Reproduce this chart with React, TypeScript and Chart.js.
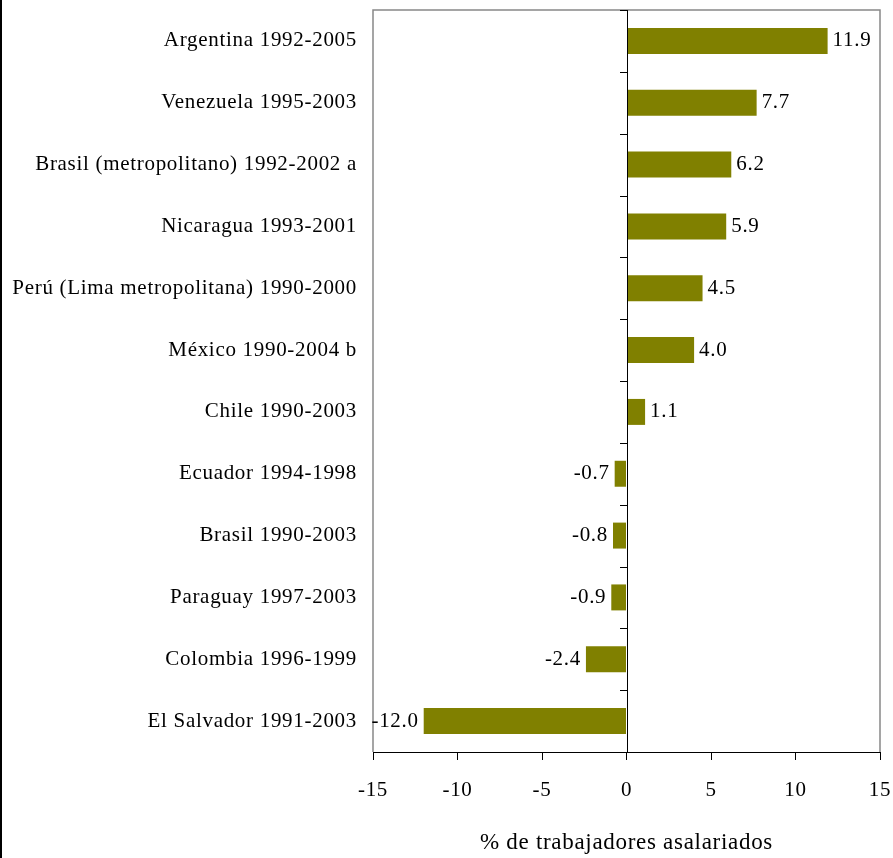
import React, { useEffect, useRef } from "react";
import { Chart, registerables } from "chart.js";

Chart.register(...registerables);

const categories = [
  "Argentina 1992-2005",
  "Venezuela 1995-2003",
  "Brasil (metropolitano) 1992-2002 a",
  "Nicaragua 1993-2001",
  "Perú (Lima metropolitana) 1990-2000",
  "México 1990-2004 b",
  "Chile 1990-2003",
  "Ecuador 1994-1998",
  "Brasil 1990-2003",
  "Paraguay 1997-2003",
  "Colombia 1996-1999",
  "El Salvador 1991-2003",
];
const values = [11.9, 7.7, 6.2, 5.9, 4.5, 4.0, 1.1, -0.7, -0.8, -0.9, -2.4, -12.0];
const xMin = -15;
const xMax = 15;
const xStep = 5;
const axisTitle = "% de trabajadores asalariados";

const FONT = "'Liberation Serif', 'Times New Roman', serif";
const BAR_COLOR = "#808000";

const spacingPlugin = {
  id: "spacing",
  beforeDraw(chart: any) {
    const ctx = chart.ctx;
    (ctx as any).letterSpacing = "0.7px";
    ctx.save();
    ctx.fillStyle = "#ffffff";
    ctx.fillRect(0, 0, chart.width, chart.height);
    ctx.fillStyle = "#000000";
    ctx.fillRect(0, 0, 2, chart.height);
    ctx.restore();
  },
};

const framePlugin = {
  id: "frame",
  beforeDatasetsDraw(chart: any) {
    const { ctx, chartArea } = chart;
    ctx.save();
    ctx.strokeStyle = "#888888";
    ctx.lineWidth = 1.5;
    ctx.beginPath();
    ctx.moveTo(chartArea.left, chartArea.bottom);
    ctx.lineTo(chartArea.left, chartArea.top);
    ctx.lineTo(chartArea.right, chartArea.top);
    ctx.lineTo(chartArea.right, chartArea.bottom);
    ctx.stroke();
    ctx.restore();
  },
  afterDatasetsDraw(chart: any) {
    const { ctx, chartArea } = chart;
    const x0 = chart.scales.x.getPixelForValue(0);
    ctx.save();
    ctx.strokeStyle = "#000000";
    ctx.lineWidth = 1;
    ctx.beginPath();
    ctx.moveTo(Math.round(x0) + 0.5, chartArea.top);
    ctx.lineTo(Math.round(x0) + 0.5, chartArea.bottom);
    const n = categories.length;
    const h = (chartArea.bottom - chartArea.top) / n;
    for (let i = 0; i <= n; i++) {
      const y = Math.round(chartArea.top + i * h) + 0.5;
      ctx.moveTo(Math.round(x0) - 7, y);
      ctx.lineTo(Math.round(x0) + 0.5, y);
    }
    ctx.stroke();

    // data labels
    ctx.fillStyle = "#000000";
    ctx.font = `21px ${FONT}`;
    ctx.textBaseline = "middle";
    const meta = chart.getDatasetMeta(0);
    meta.data.forEach((el: any, i: number) => {
      const v = values[i];
      const txt = v.toFixed(1);
      if (v >= 0) {
        ctx.textAlign = "left";
        ctx.fillText(txt, el.x + 5, el.y);
      } else {
        ctx.textAlign = "right";
        ctx.fillText(txt, el.x - 5, el.y);
      }
    });
    ctx.restore();
  },
};

function zeroPad(scale: any) {
  scale.paddingTop = 0;
  scale.paddingBottom = 0;
  scale.paddingLeft = 0;
  scale.paddingRight = 0;
}

export default function App() {
  const ref = useRef<HTMLCanvasElement>(null);
  useEffect(() => {
    if (!ref.current) return;
    const chart = new Chart(ref.current, {
      type: "bar",
      data: {
        labels: categories,
        datasets: [
          {
            data: values,
            backgroundColor: BAR_COLOR,
            borderWidth: 0,
            categoryPercentage: 1,
            barPercentage: 0.42,
          },
        ],
      },
      options: {
        indexAxis: "y",
        responsive: false,
        animation: false,
        layout: { padding: { top: 10, right: 13, left: 0, bottom: 0 } },
        plugins: {
          legend: { display: false },
          tooltip: { enabled: false },
          title: { display: false },
        },
        scales: {
          x: {
            type: "linear",
            min: xMin,
            max: xMax,
            ticks: {
              stepSize: xStep,
              color: "#000000",
              font: { family: FONT, size: 21 },
              padding: 18,
            },
            grid: {
              display: true,
              drawOnChartArea: false,
              drawTicks: true,
              tickLength: 8,
              color: "#000000",
            },
            border: { display: true, color: "#000000", width: 1 },
            title: {
              display: true,
              text: axisTitle,
              color: "#000000",
              font: { family: FONT, size: 23 },
              padding: { top: 0, bottom: 1 },
            },
            afterFit(scale: any) {
              scale.height = 106;
              zeroPad(scale);
            },
          },
          y: {
            type: "category",
            ticks: {
              color: "#000000",
              font: { family: FONT, size: 21 },
              padding: 16,
              autoSkip: false,
            },
            grid: { display: false, drawTicks: false },
            border: { display: false },
            afterFit(scale: any) {
              scale.width = 373;
              zeroPad(scale);
            },
          },
        },
      },
      plugins: [spacingPlugin, framePlugin],
    });
    return () => chart.destroy();
  }, []);
  return (
    <div style={{ position: "absolute", left: 0, top: 0, width: 893, height: 858, background: "#fff" }}>
      <canvas ref={ref} width={893} height={858} style={{ display: "block" }} />
    </div>
  );
}
